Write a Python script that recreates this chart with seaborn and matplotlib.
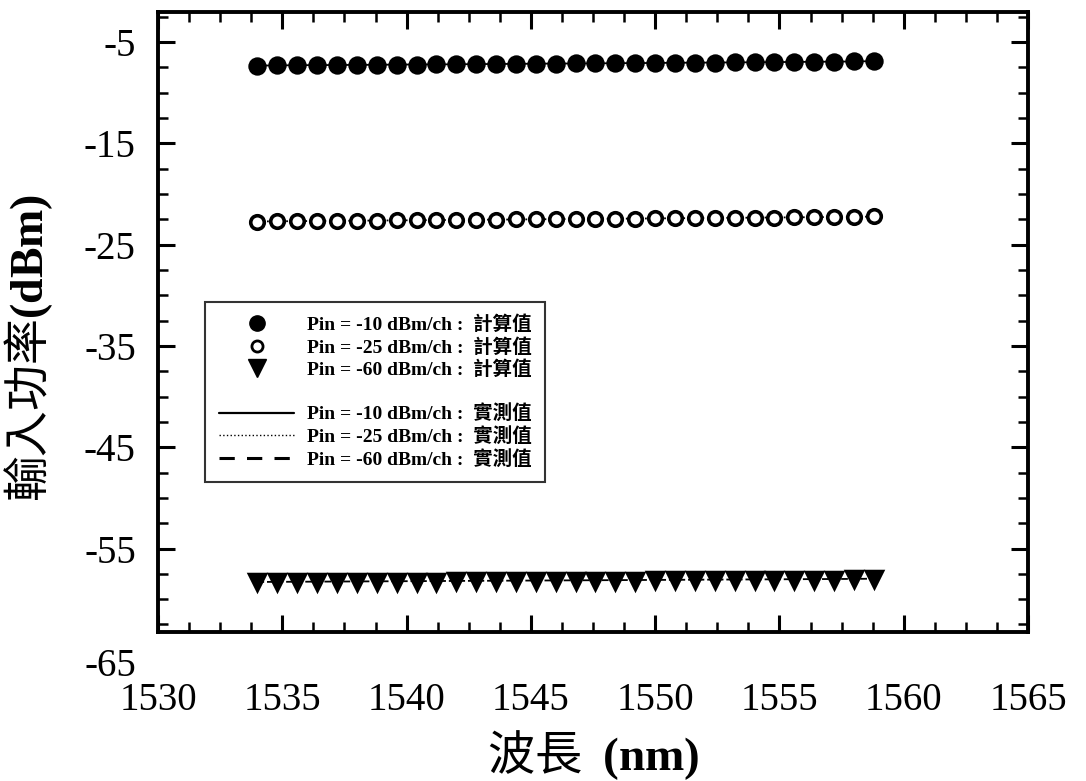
import numpy as np
import pandas as pd
import matplotlib
matplotlib.use("Agg")
import matplotlib.pyplot as plt
from matplotlib.ticker import MultipleLocator, FixedLocator
from matplotlib.lines import Line2D
import seaborn as sns

# ---------------- data ----------------
wavelength = [1534.0, 1534.8, 1535.6, 1536.4, 1537.2, 1538.0, 1538.8, 1539.6,
              1540.4, 1541.2, 1542.0, 1542.8, 1543.6, 1544.4, 1545.2, 1546.0,
              1546.8, 1547.6, 1548.4, 1549.2, 1550.0, 1550.8, 1551.6, 1552.4,
              1553.2, 1554.0, 1554.8, 1555.6, 1556.4, 1557.2, 1558.0, 1558.8]

calc_m10 = [-7.35, -7.31, -7.30, -7.28, -7.27, -7.26, -7.25, -7.24,
            -7.22, -7.21, -7.20, -7.19, -7.17, -7.16, -7.15, -7.13,
            -7.12, -7.11, -7.10, -7.08, -7.07, -7.06, -7.04, -7.03,
            -7.01, -7.00, -6.98, -6.97, -6.95, -6.94, -6.92, -6.88]
calc_m25 = [-22.72, -22.70, -22.69, -22.67, -22.66, -22.64, -22.63, -22.61,
            -22.60, -22.58, -22.57, -22.55, -22.54, -22.52, -22.51, -22.49,
            -22.48, -22.46, -22.45, -22.43, -22.42, -22.40, -22.39, -22.37,
            -22.36, -22.34, -22.33, -22.31, -22.30, -22.28, -22.27, -22.22]
calc_m60 = [-58.45, -58.44, -58.43, -58.42, -58.41, -58.40, -58.39, -58.38,
            -58.37, -58.36, -58.35, -58.34, -58.33, -58.32, -58.31, -58.30,
            -58.29, -58.28, -58.27, -58.26, -58.25, -58.24, -58.23, -58.22,
            -58.21, -58.20, -58.19, -58.18, -58.17, -58.16, -58.15, -58.12]

meas_m10 = [-7.33, -7.31, -7.29, -7.28, -7.27, -7.26, -7.25, -7.23,
            -7.22, -7.21, -7.20, -7.18, -7.17, -7.16, -7.14, -7.13,
            -7.12, -7.11, -7.09, -7.08, -7.07, -7.05, -7.04, -7.03,
            -7.01, -7.00, -6.98, -6.97, -6.95, -6.94, -6.92, -6.89]
meas_m25 = [-22.71, -22.70, -22.68, -22.67, -22.65, -22.64, -22.62, -22.61,
            -22.59, -22.58, -22.56, -22.55, -22.53, -22.52, -22.50, -22.49,
            -22.47, -22.46, -22.44, -22.43, -22.41, -22.40, -22.38, -22.37,
            -22.35, -22.34, -22.32, -22.31, -22.29, -22.28, -22.26, -22.23]
meas_m60 = [-58.30, -58.29, -58.28, -58.27, -58.26, -58.25, -58.24, -58.23,
            -58.22, -58.21, -58.20, -58.19, -58.18, -58.17, -58.16, -58.15,
            -58.14, -58.13, -58.12, -58.11, -58.10, -58.09, -58.08, -58.07,
            -58.06, -58.05, -58.04, -58.03, -58.02, -58.01, -58.00, -57.98]

x_ticks = [1530, 1535, 1540, 1545, 1550, 1555, 1560, 1565]
y_ticks = [-5, -15, -25, -35, -45, -55]
y_extra_label = "-65"

calc_labels = ["Pin = -10 dBm/ch :  計算值",
               "Pin = -25 dBm/ch :  計算值",
               "Pin = -60 dBm/ch :  計算值"]
meas_labels = ["Pin = -10 dBm/ch :  實測值",
               "Pin = -25 dBm/ch :  實測值",
               "Pin = -60 dBm/ch :  實測值"]
x_label = r"波長  $\mathbf{(nm)}$"
y_label = r"輸入功率$\mathbf{(dBm)}$"

# ---------------- style ----------------
sns.set_theme(style="ticks")
plt.rcParams['font.family'] = ['Liberation Serif', 'Noto Sans CJK TC', 'DejaVu Sans']
plt.rcParams['axes.unicode_minus'] = False
plt.rcParams['mathtext.fontset'] = 'custom'
plt.rcParams['mathtext.bf'] = 'Liberation Serif:bold'
plt.rcParams['mathtext.rm'] = 'Liberation Serif'
for k in ['text.color', 'axes.labelcolor', 'xtick.color', 'ytick.color',
          'axes.edgecolor']:
    plt.rcParams[k] = 'black'

fig = plt.figure(figsize=(10.86, 7.81), dpi=100)
ax = fig.add_axes([0.1455, 0.1908, 0.8011, 0.7938])

series = ["m10"] * 32 + ["m25"] * 32 + ["m60"] * 32
calc_df = pd.DataFrame({"wl": wavelength * 3,
                        "p": calc_m10 + calc_m25 + calc_m60, "s": series})
meas_df = pd.DataFrame({"wl": wavelength * 3,
                        "p": meas_m10 + meas_m25 + meas_m60, "s": series})

# measured lines
line_styles = {"m10": "-", "m25": ":", "m60": "--"}
for key, ls in line_styles.items():
    sub = meas_df[meas_df.s == key]
    sns.lineplot(data=sub, x="wl", y="p", ax=ax, color="black",
                 linestyle=ls, linewidth=1.3, legend=False, zorder=2)

# calculated markers
sns.scatterplot(data=calc_df[calc_df.s == "m10"], x="wl", y="p", ax=ax,
                marker="o", s=175, color="black", edgecolor="black",
                linewidth=0, legend=False, zorder=3)
sns.scatterplot(data=calc_df[calc_df.s == "m25"], x="wl", y="p", ax=ax,
                marker="o", s=95, facecolor="white", edgecolor="black",
                linewidth=2.6, legend=False, zorder=3)
sns.scatterplot(data=calc_df[calc_df.s == "m60"], x="wl", y="p", ax=ax,
                marker="v", s=240, color="black", edgecolor="black",
                linewidth=0, legend=False, zorder=3)

ax.set_xlim(1530, 1565)
ax.set_ylim(-63.24, -2.04)

ax.xaxis.set_major_locator(FixedLocator(x_ticks))
ax.xaxis.set_minor_locator(MultipleLocator(1.25))
ax.yaxis.set_major_locator(FixedLocator(y_ticks))
ax.yaxis.set_minor_locator(MultipleLocator(2.5))
ax.set_xticklabels([str(v) for v in x_ticks])
ax.set_yticklabels([str(v) for v in y_ticks])

ax.tick_params(axis='both', which='both', direction='in', top=True, right=True,
               colors='black')
ax.tick_params(axis='both', which='major', length=12, width=2.2)
ax.tick_params(axis='both', which='minor', length=7, width=1.8)
ax.tick_params(axis='x', which='major', pad=36, labelsize=28)
ax.tick_params(axis='y', which='major', pad=16, labelsize=28)

ax.text(-0.025, -66.6, y_extra_label, transform=ax.get_yaxis_transform(),
        ha='right', va='center', fontsize=28, clip_on=False)

for sp in ax.spines.values():
    sp.set_linewidth(2.8)
    sp.set_color('black')

ax.set_xlabel(x_label, fontsize=34, family='Noto Sans CJK TC')
ax.set_ylabel(y_label, fontsize=33, family='Noto Sans CJK TC')
ax.xaxis.set_label_coords(0.5, -0.155)
ax.yaxis.set_label_coords(-0.118, 0.458)

# legend
handles = [
    Line2D([], [], linestyle='none', marker='o', markersize=11, color='black'),
    Line2D([], [], linestyle='none', marker='o', markersize=8, markerfacecolor='white',
           markeredgecolor='black', markeredgewidth=2),
    Line2D([], [], linestyle='none', marker='v', markersize=13, color='black'),
    Line2D([], [], linestyle='none', color='none'),
    Line2D([], [], linestyle='-', color='black', linewidth=1.6),
    Line2D([], [], linestyle=':', color='black', linewidth=1.0),
    Line2D([], [], linestyle='--', color='black', linewidth=2.2, dashes=(5, 4)),
]
labels = calc_labels + [""] + meas_labels
leg = ax.legend(handles, labels, loc='upper left',
                bbox_to_anchor=(205 / 1086, 1 - 302 / 781),
                bbox_transform=fig.transFigure,
                prop={'family': ['Liberation Serif', 'Noto Sans CJK TC'],
                      'weight': 'bold', 'size': 14},
                frameon=True, fancybox=False, edgecolor='black',
                handlelength=3.9, handletextpad=0.65, labelspacing=0.2,
                borderpad=0.7, borderaxespad=0)
leg.get_frame().set_linewidth(1.5)

fig.savefig("out.png", dpi=100, facecolor='white')
